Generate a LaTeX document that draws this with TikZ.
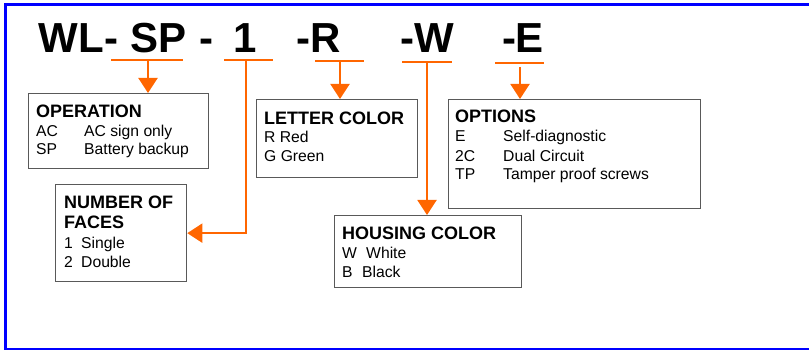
\documentclass[tikz,border=0pt]{standalone}
\usepackage{fontspec}
\setmainfont{Liberation Sans}
\usetikzlibrary{arrows.meta}
\definecolor{org}{HTML}{FF6600}
\definecolor{frameblue}{HTML}{0000FF}
\tikzset{
  title/.style={anchor=base, inner sep=0pt, font=\fontsize{42}{48}\selectfont\bfseries},
  head/.style={anchor=base west, inner sep=0pt, font=\fontsize{18}{20}\selectfont\bfseries},
  body/.style={anchor=base west, inner sep=0pt, font=\fontsize{15.7}{18}\selectfont},
  box/.style={draw=black!65, line width=1.3pt, anchor=north west, inner sep=0pt},
  uline/.style={draw=org, line width=2pt},
  arr/.style={draw=org, line width=2pt, -{Triangle[width=19pt,length=15pt]}},
}
\begin{document}
\begin{tikzpicture}[x=1pt,y=-1pt]
\useasboundingbox (0,0) rectangle (809,350);
% frame
\draw[frameblue, line width=3pt] (809,5) -- (5,5) -- (5,348);
\draw[frameblue, line width=2.5pt] (4,348.8) -- (809,348.8);
% title
\node[title] (twl) at (78.5,53) {WL-};
\node[title] (tsp) at (158.5,53) {SP};
\node[title] (td1) at (206.5,53) {-};
\node[title] (tone) at (245,53) {1};
\node[title] (tr) at (319,53) {-R};
\node[title] (tw) at (427.5,53) {-W};
\node[title] (te) at (523,53) {-E};
% underline coordinates
\coordinate (spL) at (111,60); \coordinate (spR) at (183,60); \coordinate (spU) at (148,60);
\coordinate (oneL) at (224,60); \coordinate (oneR) at (273,60); \coordinate (oneU) at (246,60);
\coordinate (rL) at (315,61); \coordinate (rR) at (364,61); \coordinate (rU) at (340,61);
\coordinate (wL) at (402,62); \coordinate (wR) at (452,62); \coordinate (wU) at (427,62);
\coordinate (eL) at (495,63); \coordinate (eR) at (544,63); \coordinate (eU) at (520,67);
\draw[uline] (spL) -- (spR);
\draw[uline] (oneL) -- (oneR);
\draw[uline] (rL) -- (rR);
\draw[uline] (wL) -- (wR);
\draw[uline] (eL) -- (eR);
% boxes
\node[box, minimum width=180pt, minimum height=75pt] (opbox) at (28,93) {};
\node[box, minimum width=131pt, minimum height=97pt] (facebox) at (55,184) {};
\node[box, minimum width=161pt, minimum height=78pt] (letterbox) at (256,99) {};
\node[box, minimum width=187pt, minimum height=72pt] (housebox) at (334,215) {};
\node[box, minimum width=252pt, minimum height=109pt] (optbox) at (448,99) {};
% arrows
\draw[arr] (spU) -- (spU |- opbox.north);
\draw[arr] (oneU) |- (facebox.east);
\draw[arr] (rU) -- (rU |- letterbox.north);
\draw[arr] (wU) -- (wU |- housebox.north);
\draw[arr] (eU) -- (eU |- optbox.north);
% OPERATION
\node[head] (oph) at (36,118) {OPERATION};
\node[body] (op1a) at (36,137) {AC};
\node[body] (op1b) at (84,137) {AC sign only};
\node[body] (op2a) at (36,155) {SP};
\node[body] (op2b) at (84,155) {Battery backup};
% NUMBER OF FACES
\node[head] (fh1) at (64,208) {NUMBER OF};
\node[head] (fh2) at (64,229) {FACES};
\node[body] (f1a) at (64,248) {1};
\node[body] (f1b) at (81,248) {Single};
\node[body] (f2a) at (64,267) {2};
\node[body] (f2b) at (81,267) {Double};
% LETTER COLOR
\node[head] (lh) at (264,125) {LETTER COLOR};
\node[body] (l1) at (264,143) {R Red};
\node[body] (l2) at (264,162) {G Green};
% HOUSING COLOR
\node[head] (hh) at (342,239) {HOUSING COLOR};
\node[body] (h1a) at (342,258) {W};
\node[body] (h1b) at (366,258) {White};
\node[body] (h2a) at (342,277) {B};
\node[body] (h2b) at (362,277) {Black};
% OPTIONS
\node[head] (oh) at (455,123) {OPTIONS};
\node[body] (o1a) at (455,142) {E};
\node[body] (o1b) at (503,142) {Self-diagnostic};
\node[body] (o2a) at (455,161) {2C};
\node[body] (o2b) at (503,161) {Dual Circuit};
\node[body] (o3a) at (455,179) {TP};
\node[body] (o3b) at (503,179) {Tamper proof screws};
\end{tikzpicture}
\end{document}
